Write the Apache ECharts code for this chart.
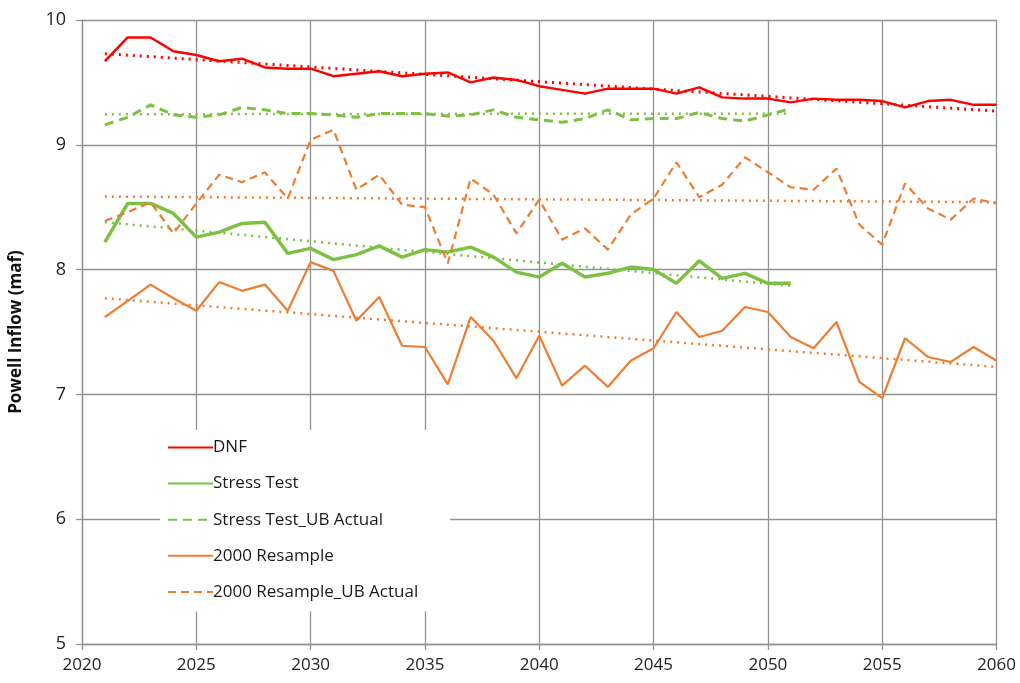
<!DOCTYPE html>
<html>
<head>
<meta charset="utf-8">
<script src="https://cdn.jsdelivr.net/npm/echarts@6/dist/echarts.min.js"></script>
<style>
  html, body { margin: 0; padding: 0; background: #fff; }
  #chart { width: 1020px; height: 683px; }
</style>
</head>
<body>
<div id="chart"></div>
<script>
// years 2021..2060
const years = [];
for (let y = 2021; y <= 2060; y++) years.push(y);

const dnf = [9.67, 9.86, 9.86, 9.75, 9.72, 9.67, 9.69, 9.62, 9.61, 9.61,
  9.55, 9.57, 9.59, 9.55, 9.57, 9.58, 9.50, 9.54, 9.52, 9.47,
  9.44, 9.41, 9.45, 9.45, 9.45, 9.41, 9.46, 9.38, 9.37, 9.37,
  9.34, 9.37, 9.36, 9.36, 9.35, 9.30, 9.35, 9.36, 9.32, 9.32];

const stressTest = [8.22, 8.53, 8.53, 8.45, 8.26, 8.30, 8.37, 8.38, 8.13, 8.17,
  8.08, 8.12, 8.19, 8.10, 8.16, 8.14, 8.18, 8.10, 7.98, 7.94,
  8.05, 7.94, 7.97, 8.02, 8.00, 7.89, 8.07, 7.93, 7.97, 7.89,
  7.89];

const stressTestUB = [9.16, 9.22, 9.32, 9.24, 9.22, 9.24, 9.30, 9.28, 9.25, 9.25,
  9.24, 9.22, 9.25, 9.25, 9.25, 9.23, 9.24, 9.28, 9.22, 9.20,
  9.18, 9.21, 9.28, 9.20, 9.21, 9.21, 9.26, 9.21, 9.19, 9.24,
  9.29];

const resample2000 = [7.62, 7.75, 7.88, 7.77, 7.67, 7.90, 7.83, 7.88, 7.67, 8.06,
  7.99, 7.59, 7.78, 7.39, 7.38, 7.08, 7.62, 7.43, 7.13, 7.47,
  7.07, 7.23, 7.06, 7.27, 7.37, 7.66, 7.46, 7.51, 7.70, 7.66,
  7.46, 7.37, 7.58, 7.10, 6.97, 7.45, 7.30, 7.26, 7.38, 7.27];

const resample2000UB = [8.39, 8.46, 8.54, 8.29, 8.53, 8.76, 8.70, 8.78, 8.57, 9.04,
  9.12, 8.64, 8.76, 8.52, 8.50, 8.05, 8.73, 8.60, 8.29, 8.56,
  8.24, 8.33, 8.16, 8.44, 8.57, 8.86, 8.58, 8.68, 8.90, 8.78,
  8.66, 8.64, 8.81, 8.36, 8.20, 8.69, 8.49, 8.40, 8.57, 8.53];

// linear trend end points [year, value]
const dnfTrend = [[2021, 9.73], [2060, 9.27]];
const stressTestTrend = [[2021, 8.38], [2051, 7.87]];
const stressTestUBTrend = [[2021, 9.245], [2051, 9.25]];
const resampleTrend = [[2021, 7.77], [2060, 7.22]];
const resampleUBTrend = [[2021, 8.585], [2060, 8.54]];

const legendNames = ['DNF', 'Stress Test', 'Stress Test_UB Actual', '2000 Resample', '2000 Resample_UB Actual'];

const RED = '#ff0000';
const GREEN = '#7cc142';
const ORANGE = '#ed7d31';
const FONT = '"Open Sans", Lato, sans-serif';
const GRID = '#929292';

function pairs(vals) {
  return vals.map((v, i) => [years[i], v]);
}

function line(name, data, color, width, type, z) {
  return {
    name: name,
    type: 'line',
    data: data,
    symbol: 'none',
    showSymbol: false,
    z: z || 3,
    lineStyle: { color: color, width: width, type: type },
    itemStyle: { color: color },
    emphasis: { disabled: true }
  };
}

const chart = echarts.init(document.getElementById('chart'));
chart.setOption({
  animation: false,
  backgroundColor: '#fff',
  grid: { left: 79.5, right: 23.5, top: 20, bottom: 39, containLabel: false },
  xAxis: {
    type: 'value',
    min: 2020,
    max: 2060,
    interval: 5,
    axisLine: { show: true, lineStyle: { color: GRID, width: 1.3 } },
    axisTick: { show: true, length: 6, lineStyle: { color: GRID, width: 1.3 } },
    axisLabel: { color: '#222', fontSize: 17, fontFamily: FONT, margin: 13, formatter: v => String(v) },
    splitLine: { show: true, lineStyle: { color: GRID, width: 1.3 } }
  },
  yAxis: {
    type: 'value',
    min: 5,
    max: 10,
    interval: 1,
    name: 'Powell Inflow (maf)',
    nameLocation: 'middle',
    nameGap: 57,
    nameTextStyle: { color: '#111', fontSize: 17, fontWeight: 'bold', fontFamily: FONT },
    axisLine: { show: true, lineStyle: { color: GRID, width: 1.3 } },
    axisTick: { show: true, length: 6, lineStyle: { color: GRID, width: 1.3 } },
    axisLabel: { color: '#222', fontSize: 18, fontFamily: FONT, margin: 16 },
    splitLine: { show: true, lineStyle: { color: GRID, width: 1.3 } }
  },
  legend: {
    orient: 'vertical',
    left: 160,
    top: 430,
    padding: [9, 32, 11, 7],
    backgroundColor: '#fff',
    itemWidth: 45,
    itemHeight: 14,
    itemGap: 19.1,
    itemStyle: { opacity: 0 },
    textStyle: { color: '#1a1a1a', fontSize: 17, fontFamily: FONT, padding: [0, 0, 0, -5] },
    data: legendNames
  },
  series: [
    line('DNF trend', dnfTrend, RED, 3, [2, 5], 2),
    line('Stress Test_UB trend', stressTestUBTrend, GREEN, 2.5, [2, 5], 2),
    line('Stress Test trend', stressTestTrend, GREEN, 2.5, [2, 5], 2),
    line('2000 Resample_UB trend', resampleUBTrend, ORANGE, 2.5, [2, 5], 2),
    line('2000 Resample trend', resampleTrend, ORANGE, 2.5, [2, 5], 2),
    line(legendNames[0], pairs(dnf), RED, 2.5, 'solid', 4),
    line(legendNames[1], pairs(stressTest), GREEN, 3.5, 'solid', 3),
    line(legendNames[2], pairs(stressTestUB), GREEN, 3, [9, 6], 3),
    line(legendNames[3], pairs(resample2000), ORANGE, 2.2, 'solid', 3),
    line(legendNames[4], pairs(resample2000UB), ORANGE, 2.2, [8, 5], 3)
  ]
});
</script>
</body>
</html>
